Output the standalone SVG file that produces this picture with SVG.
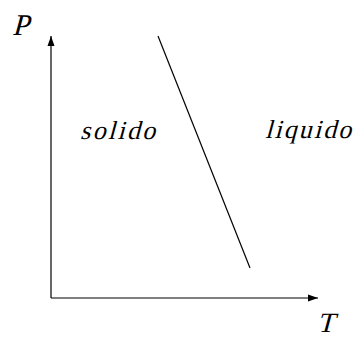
<svg xmlns="http://www.w3.org/2000/svg" width="356" height="339" viewBox="0 0 356 339">
<style>
text{font-family:'Liberation Serif','Times New Roman',serif;fill:#000}
.ln{stroke:#000;stroke-width:1.2;fill:none}
</style>
<defs>
<marker id="ah" viewBox="0 0 10 10" refX="10" refY="5" markerWidth="10" markerHeight="10" markerUnits="userSpaceOnUse" orient="auto">
<path d="M0,1.5 L10,5 L0,8.5 Z" fill="#000"/>
</marker>
</defs>
<rect width="356" height="339" fill="#fff"/>
<g id="connectors">
<line class="ln" x1="51" y1="298" x2="51" y2="36" marker-end="url(#ah)"/>
<line class="ln" x1="51" y1="298" x2="318" y2="298" marker-end="url(#ah)"/>
<line class="ln" x1="158" y1="36" x2="250" y2="268"/>
</g>
<g id="label-P"><text transform="translate(12,35) skewX(-15)" font-size="30">P</text></g>
<g id="label-T"><text transform="translate(317,332) skewX(-15)" font-size="28">T</text></g>
<g id="label-solido"><text transform="translate(80,139) skewX(-15)" font-size="26" textLength="75" lengthAdjust="spacing">solido</text></g>
<g id="label-liquido"><text transform="translate(265,138) skewX(-15)" font-size="26" textLength="86" lengthAdjust="spacing">liquido</text></g>
</svg>
